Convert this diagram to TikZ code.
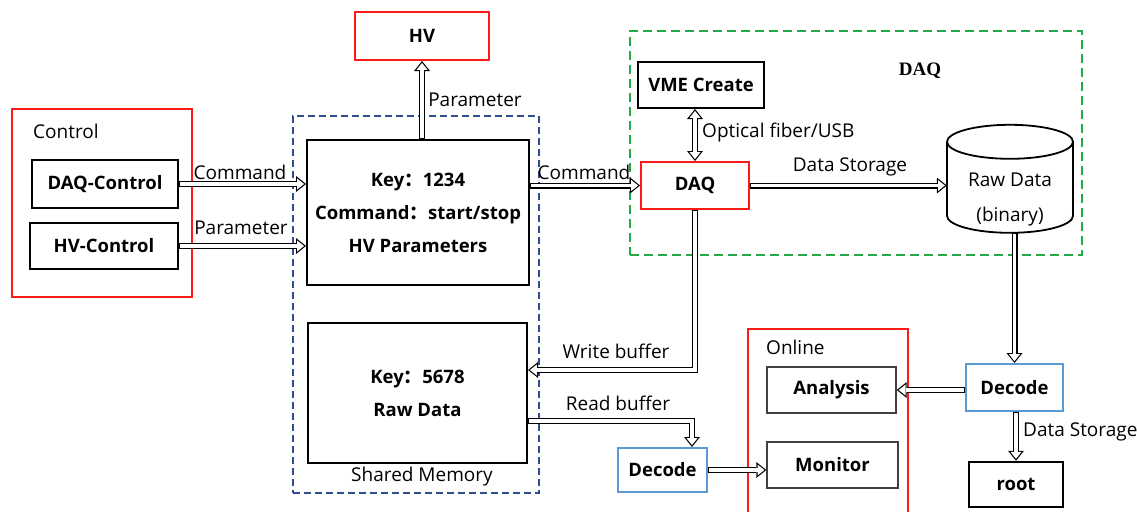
\documentclass[tikz,border=0pt]{standalone}
\usepackage{fontspec}
\setmainfont{Open Sans}
\newfontfamily\cjk{Noto Sans CJK SC}
\newfontfamily\serifb{Liberation Serif}
\usetikzlibrary{arrows.meta,calc}
\definecolor{myred}{HTML}{FF1A1A}
\definecolor{myblue}{HTML}{2E4E8F}
\definecolor{mygreen}{HTML}{22AA44}
\definecolor{lblue}{HTML}{5B9BD5}
\begin{document}
\begin{tikzpicture}[x=1pt,y=-1pt,
 box/.style={draw=black, line width=2pt, font=\fontsize{18.5}{33}\selectfont\bfseries, inner sep=0pt, align=center},
 redbox/.style={box, draw=myred},
 bluebox/.style={box, draw=lblue},
 graybox/.style={box, draw=black!75, line width=1.4pt},
 frame/.style={draw, line width=2pt, inner sep=0pt},
 lbl/.style={font=\fontsize{19}{22}\selectfont, inner sep=0pt},
 harrow/.style={line width=6pt, -{Triangle[length=10pt,width=16pt,line width=0pt]},
   postaction={draw=white, line width=3.6pt, shorten <=1.2pt, shorten >=1.92pt,
   -{Triangle[length=6.88pt,width=11pt,line width=0pt]}}},
 harrowb/.style={line width=6pt, {Triangle[length=10pt,width=16pt,line width=0pt]}-{Triangle[length=10pt,width=16pt,line width=0pt]},
   postaction={draw=white, line width=3.6pt, shorten <=1.92pt, shorten >=1.92pt,
   {Triangle[length=6.88pt,width=11pt,line width=0pt]}-{Triangle[length=6.88pt,width=11pt,line width=0pt]}}}
]
\useasboundingbox (0,0) rectangle (1137,511);
\clip (0,0) rectangle (1137,511);
\fill[white] (0,0) rectangle (1137,511);

% Control
\node[frame, draw=myred, minimum width=180pt, minimum height=188pt] (ctrl) at (102,203) {};
\node[lbl, anchor=west] (ctrllbl) at (33,131) {Control};
\node[box, minimum width=146pt, minimum height=48pt] (daqctl) at (105,184) {DAQ-Control};
\node[box, minimum width=148pt, minimum height=46pt] (hvctl) at (104,246) {HV-Control};

% HV
\node[redbox, minimum width=134pt, minimum height=48pt] (hv) at (422,36) {HV};

% Shared memory
\node[frame, draw=myblue, dash pattern=on 7pt off 4pt, minimum width=246pt, minimum height=377pt] (shm) at (416,304.5) {};
\node[box, minimum width=222pt, minimum height=145pt] (key1) at (418,212.5) {Key{\cjk ：}1234\\Command{\cjk ：}start/stop\\HV Parameters};
\node[box, minimum width=219pt, minimum height=140pt] (key2) at (417.5,393) {Key{\cjk ：}5678\\Raw Data};
\node[lbl] (shmlbl) at (422,477) {Shared Memory};

% DAQ frame
\node[frame, draw=mygreen, line width=2.2pt, dash pattern=on 9pt off 5pt, minimum width=452pt, minimum height=224pt] (daqf) at (856,143) {};
\node[font=\serifb\bfseries\fontsize{19}{22}\selectfont, inner sep=0pt] (daqt) at (920,71) {DAQ};
\node[box, minimum width=126pt, minimum height=46pt] (vme) at (701,85) {VME Create};
\node[redbox, minimum width=108pt, minimum height=47pt] (daq) at (695,185.5) {DAQ};

% cylinder
\node[minimum width=126pt, minimum height=108pt, inner sep=0pt] (cyl) at (1010,179) {};
\path (cyl.north) ++(0,17) coordinate (ct);
\draw[line width=1.8pt] (ct) ellipse [x radius=63pt, y radius=17pt];
\draw[line width=1.8pt] ([xshift=-63pt]ct) -- ++(0,74) arc[start angle=180, end angle=360, x radius=63pt, y radius=17pt] -- ++(0,-74);
\node[lbl, align=center, font=\fontsize{19}{35}\selectfont] (cyltxt) at (1010,199.5) {Raw Data\\(binary)};

% Online
\node[frame, draw=myred, minimum width=160pt, minimum height=191pt] (online) at (828,424.5) {};
\node[lbl, anchor=west] (onlbl) at (766,347) {Online};
\node[graybox, minimum width=129pt, minimum height=46pt] (ana) at (831.5,390) {Analysis};
\node[graybox, minimum width=131pt, minimum height=46pt] (mon) at (832.5,465) {Monitor};

\node[bluebox, minimum width=97pt, minimum height=47pt] (dec2) at (1014.5,387.5) {Decode};
\node[bluebox, minimum width=89pt, minimum height=44pt] (dec1) at (662.5,470) {Decode};
\node[box, line width=2.5pt, minimum width=94pt, minimum height=45pt] (root) at (1016,484.5) {root};

% arrows
\draw[harrow] (daqctl.east) -- (daqctl.east -| key1.west);
\node[lbl] (l1) at (240,172) {Command};
\draw[harrow] (hvctl.east) -- (hvctl.east -| key1.west);
\node[lbl] (l2) at (241,228) {Parameter};
\draw[harrow] (hv.south |- key1.north) -- (hv.south);
\node[lbl] (l3) at (475,100) {Parameter};
\draw[harrow] (key1.east |- daq.west) -- (daq.west);
\node[lbl] (l4) at (584,172) {Command};
\draw[harrowb] (daq.north |- vme.south) -- (daq.north);
\node[lbl, anchor=west] (l5) at (702,133) {Optical fiber/USB};
\draw[harrow] (daq.east) -- (daq.east -| cyl.west);
\node[lbl] (l6) at (850,167) {Data Storage};
\draw[harrow] (daq.south) |- ([yshift=23pt]key2.east);
\node[lbl] (l7) at (616,351) {Write buffer};
\draw[harrow] ([yshift=-28pt]key2.east) -| ([xshift=29.5pt]dec1.north);
\node[lbl] (l8) at (618,403) {Read buffer};
\draw[harrow] (dec1.east) -- (dec1.east -| mon.west);
\draw[harrow] (cyl.south -| dec2.north) -- (dec2.north);
\draw[harrow] (dec2.west |- ana.east) -- (ana.east);
\draw[harrow] (dec2.south -| root.north) -- (root.north);
\node[lbl, anchor=west] (l9) at (1023,432) {Data Storage};
\end{tikzpicture}
\end{document}
